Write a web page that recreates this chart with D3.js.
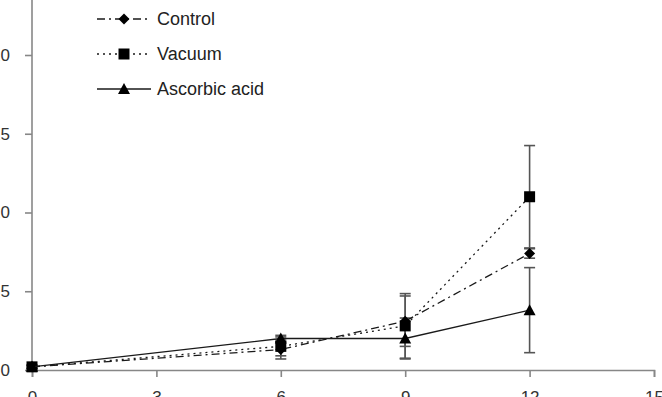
<!DOCTYPE html>
<html>
<head>
<meta charset="utf-8">
<script src="https://cdn.jsdelivr.net/npm/d3@7"></script>
<style>
  body { margin: 0; background: #fff; }
  svg { display: block; font-family: "Liberation Sans", Arial, sans-serif; }
</style>
</head>
<body>
<div id="chart"></div>
<script>
// data
const days = [0, 6, 9, 12];
const xTicks = [0, 3, 6, 9, 12, 15];
const yTicks = [0, 5, 10, 15, 20, 25];

const controlMean = [0.2, 1.3, 3.1, 7.4];
const controlErr = [0.1, 0.6, 1.6, 0.3];
const vacuumMean = [0.2, 1.5, 2.8, 11.0];
const vacuumErr = [0.1, 0.6, 2.05, 3.25];
const ascorbicMean = [0.2, 2.0, 2.0, 3.8];
const ascorbicErr = [0.1, 0.2, 1.3, 2.7];

const seriesNames = ["Control", "Vacuum", "Ascorbic acid"];

const series = [
    {name: seriesNames[0], mean: controlMean, err: controlErr, dash: "8,4,2,4", marker: "diamond"},
    {name: seriesNames[1], mean: vacuumMean, err: vacuumErr, dash: "2,4", marker: "square"},
    {name: seriesNames[2], mean: ascorbicMean, err: ascorbicErr, dash: null, marker: "triangle"}
];

let width = 662, height = 397;
let origin = {x: 32, y: 370};

let svg = d3.select("#chart").append("svg")
    .attr("width", width)
    .attr("height", height);

let x = d3.scaleLinear().domain([0, 15]).range([origin.x, 654]);
let y = d3.scaleLinear().domain([0, 20]).range([origin.y, 55]);

const axisColor = "#878787";
const lineColor = "#1a1a1a";

// y axis
let yAxis = svg.append("g")
    .attr("transform", `translate(${origin.x},0)`)
    .call(d3.axisLeft(y).tickValues(yTicks).tickSize(7).tickPadding(15));
yAxis.select(".domain").attr("d", `M0,${y(25)}V${origin.y}`);

// x axis
let xAxis = svg.append("g")
    .attr("transform", `translate(0,${origin.y})`)
    .call(d3.axisBottom(x).tickValues(xTicks).tickSize(7).tickPadding(14));

svg.selectAll(".domain, .tick line")
    .attr("stroke", axisColor)
    .attr("stroke-width", 1.6);
svg.selectAll(".tick text")
    .attr("fill", "#333")
    .style("font-size", "17px")
    .style("font-family", "Liberation Sans, Arial, sans-serif");

// marker shapes
function markerPath(type) {
    if (type === "diamond") return "M0,-5.5L5.5,0L0,5.5L-5.5,0Z";
    if (type === "square") return "M-5.5,-5.5H5.5V5.5H-5.5Z";
    return "M0,-6L6,5H-6Z";
}

// error bars
series.forEach(s => {
    let g = svg.append("g");
    days.forEach((d, i) => {
        let cx = x(d);
        let top = y(s.mean[i] + s.err[i]);
        let bot = y(s.mean[i] - s.err[i]);
        g.append("line")
            .attr("x1", cx).attr("x2", cx)
            .attr("y1", top).attr("y2", bot)
            .attr("stroke", "#555").attr("stroke-width", 1.6);
        [top, bot].forEach(v => {
            g.append("line")
                .attr("x1", cx - 5.5).attr("x2", cx + 5.5)
                .attr("y1", v).attr("y2", v)
                .attr("stroke", "#555").attr("stroke-width", 1.6);
        });
    });
});

// lines
let line = d3.line()
    .x((d, i) => x(days[i]))
    .y(d => y(d));

series.forEach(s => {
    svg.append("path")
        .datum(s.mean)
        .attr("d", line)
        .attr("fill", "none")
        .attr("stroke", lineColor)
        .attr("stroke-width", 1.3)
        .attr("stroke-dasharray", s.dash);

    svg.selectAll(null)
        .data(s.mean)
        .enter()
        .append("path")
        .attr("d", markerPath(s.marker))
        .attr("transform", (d, i) => `translate(${x(days[i])},${y(d)})`)
        .attr("fill", "#000");
});

// legend
let legend = svg.append("g");
series.forEach((s, i) => {
    let ly = 19 + i * 35;
    legend.append("line")
        .attr("x1", 97).attr("x2", 151)
        .attr("y1", ly).attr("y2", ly)
        .attr("stroke", lineColor)
        .attr("stroke-width", 1.3)
        .attr("stroke-dasharray", s.dash);
    legend.append("path")
        .attr("d", markerPath(s.marker))
        .attr("transform", `translate(124,${ly})`)
        .attr("fill", "#000");
    legend.append("text")
        .attr("x", 157)
        .attr("y", ly)
        .attr("dy", "0.35em")
        .attr("fill", "#222")
        .style("font-size", "18px")
        .text(s.name);
});
</script>
</body>
</html>
